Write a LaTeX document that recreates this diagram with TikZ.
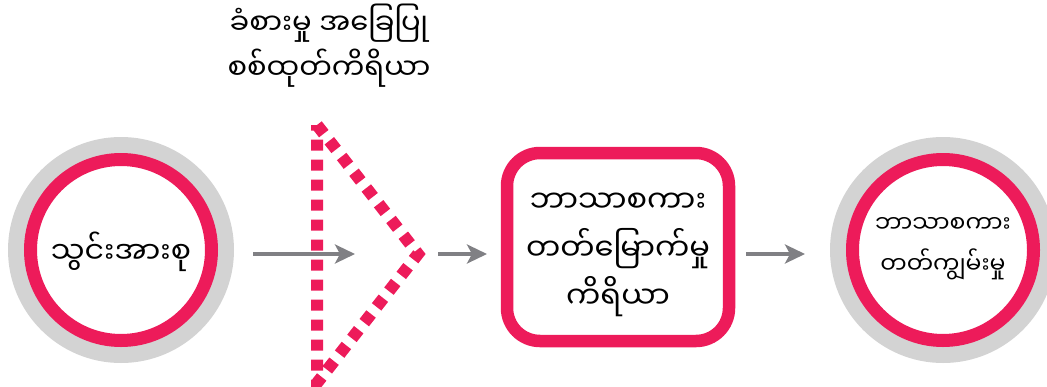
\documentclass[tikz,border=0pt]{standalone}
\usepackage{fontspec}
\newfontfamily\mya[Script=Myanmar]{Noto Sans Myanmar UI}
\usetikzlibrary{arrows.meta}
\definecolor{myred}{RGB}{237,27,90}
\definecolor{ringgray}{RGB}{211,211,211}
\definecolor{arrgray}{RGB}{128,128,132}
\tikzset{
  ring/.style={circle, draw=myred, fill=white, line width=13pt, minimum size=181pt, inner sep=0pt},
  conn/.style={draw=arrgray, line width=3.5pt, -{Stealth[length=20pt,width=19pt,inset=5pt]}},
  lbl/.style={font=\mya\fontsize{30}{41}\selectfont, align=center},
  lblsm/.style={font=\mya\fontsize{23.5}{41}\selectfont, align=center},
  boxlbl/.style={font=\mya\fontsize{30.5}{48}\selectfont, align=center},
  topl/.style={font=\mya\fontsize{29}{45}\selectfont, align=center},
  filt/.style={draw=myred, line width=12pt, dash pattern=on 11pt off 9pt},
  ladbox/.style={draw=myred, line width=12.5pt, rounded corners=33pt, minimum width=222pt, minimum height=188pt, fill=white}
}
\begin{document}
\begin{tikzpicture}[x=1pt,y=-1pt]
\useasboundingbox (0,0) rectangle (1047,386);
\clip (0,0) rectangle (1047,386);
% left circle
\fill[ringgray] (121,250) circle (113);
\node[ring] (inp) at (121,250) {};
\node[lbl] (inpt) at (121,252) {သွင်းအားစု};
% filter
\coordinate (ft) at (317,125);
\coordinate (fa) at (418,254);
\coordinate (fb) at (317,383);
\draw[filt] (ft) -- (fa) -- (fb) -- cycle;
\node[topl] (flab) at (329,46) {ခံစားမှု အခြေပြု\\စစ်ထုတ်ကိရိယာ};
% box
\node[ladbox] (lad) at (618,247) {};
\node[boxlbl] (ladt) at (618,255) {ဘာသာစကား\\တတ်မြောက်မှု\\ကိရိယာ};
% right circle
\fill[ringgray] (943,250) circle (113);
\node[ring] (comp) at (943,250) {};
\node[lblsm] (compt) at (943,249) {ဘာသာစကား\\တတ်ကျွမ်းမှု};
% arrows
\coordinate (a1s) at (253,254);
\coordinate (a1e) at (355,254);
\coordinate (a2s) at (438,254);
\coordinate (a2e) at (487,254);
\coordinate (a3s) at (746,254);
\coordinate (a3e) at (805,254);
\draw[conn] (a1s) -- (a1e);
\draw[conn] (a2s) -- (a2e);
\draw[conn] (a3s) -- (a3e);
\end{tikzpicture}
\end{document}
